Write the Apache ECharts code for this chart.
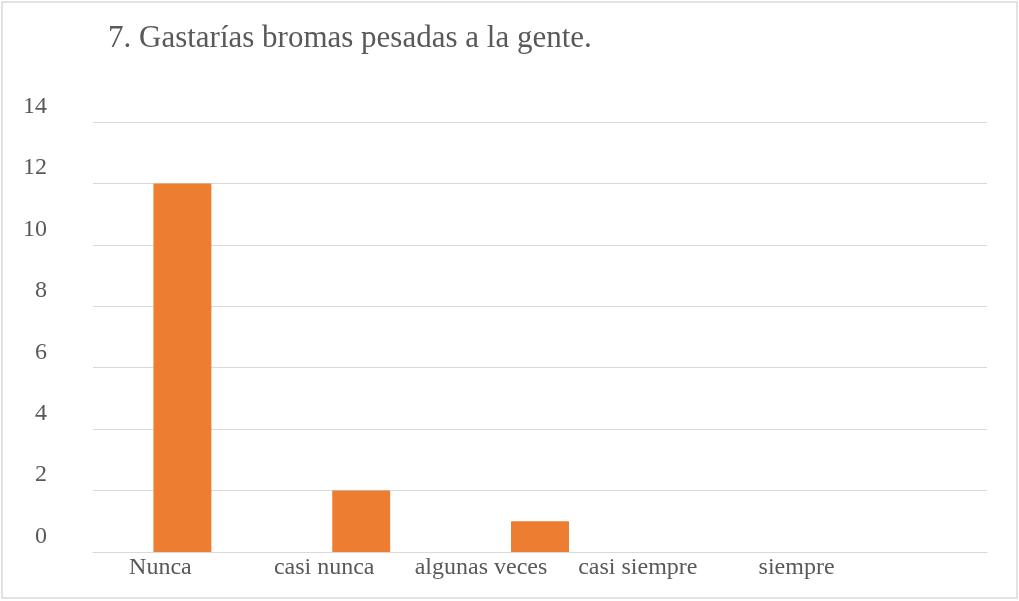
<!DOCTYPE html>
<html>
<head>
<meta charset="utf-8">
<script src="https://cdn.jsdelivr.net/npm/echarts@6/dist/echarts.min.js"></script>
<style>
  html, body { margin: 0; padding: 0; background: #fff; }
  #chart { width: 1019px; height: 601px; }
</style>
</head>
<body>
<div id="chart"></div>
<script>
  // datos
  var categories = ['Nunca', 'casi nunca', 'algunas veces', 'casi siempre', 'siempre'];
  var values = [12, 2, 1, 0, 0];
  // desplazamiento de las etiquetas hacia la izquierda (como en el original)
  var labelShift = [22, 37, 59, 81, 101];

  var chart = echarts.init(document.getElementById('chart'));
  var font = '"Liberation Serif", "Times New Roman", serif';

  var option = {
    animation: false,
    title: {
      text: '7. Gastarías bromas pesadas a la gente.',
      left: 103,
      top: 18,
      textStyle: { fontFamily: font, fontSize: 31, fontWeight: 'normal', color: '#595959' }
    },
    graphic: [{
      type: 'rect',
      shape: { x: 2, y: 2, width: 1015, height: 596 },
      style: { fill: 'none', stroke: '#d9d9d9', lineWidth: 1.5 },
      silent: true
    }],
    grid: { left: 93, right: 32, top: 122, bottom: 49 },
    xAxis: {
      type: 'category',
      data: categories.map(function (c, i) {
        return { value: c, textStyle: { padding: [0, labelShift[i] * 2, 0, 0] } };
      }),
      axisLine: { lineStyle: { color: '#d9d9d9', width: 1 } },
      axisTick: { show: false },
      axisLabel: { interval: 0, margin: 4, fontFamily: font, fontSize: 24, color: '#595959' }
    },
    yAxis: {
      type: 'value',
      min: 0,
      max: 14,
      interval: 2,
      axisLine: { show: false },
      axisTick: { show: false },
      splitLine: { lineStyle: { color: '#d9d9d9', width: 1 } },
      axisLabel: {
        margin: 46, verticalAlign: 'bottom', lineHeight: 31,
        fontFamily: font, fontSize: 24, color: '#595959'
      }
    },
    series: [{
      type: 'bar',
      data: values,
      barWidth: '32.4%',
      itemStyle: { color: '#ED7D31' }
    }]
  };
  chart.setOption(option);
</script>
</body>
</html>
